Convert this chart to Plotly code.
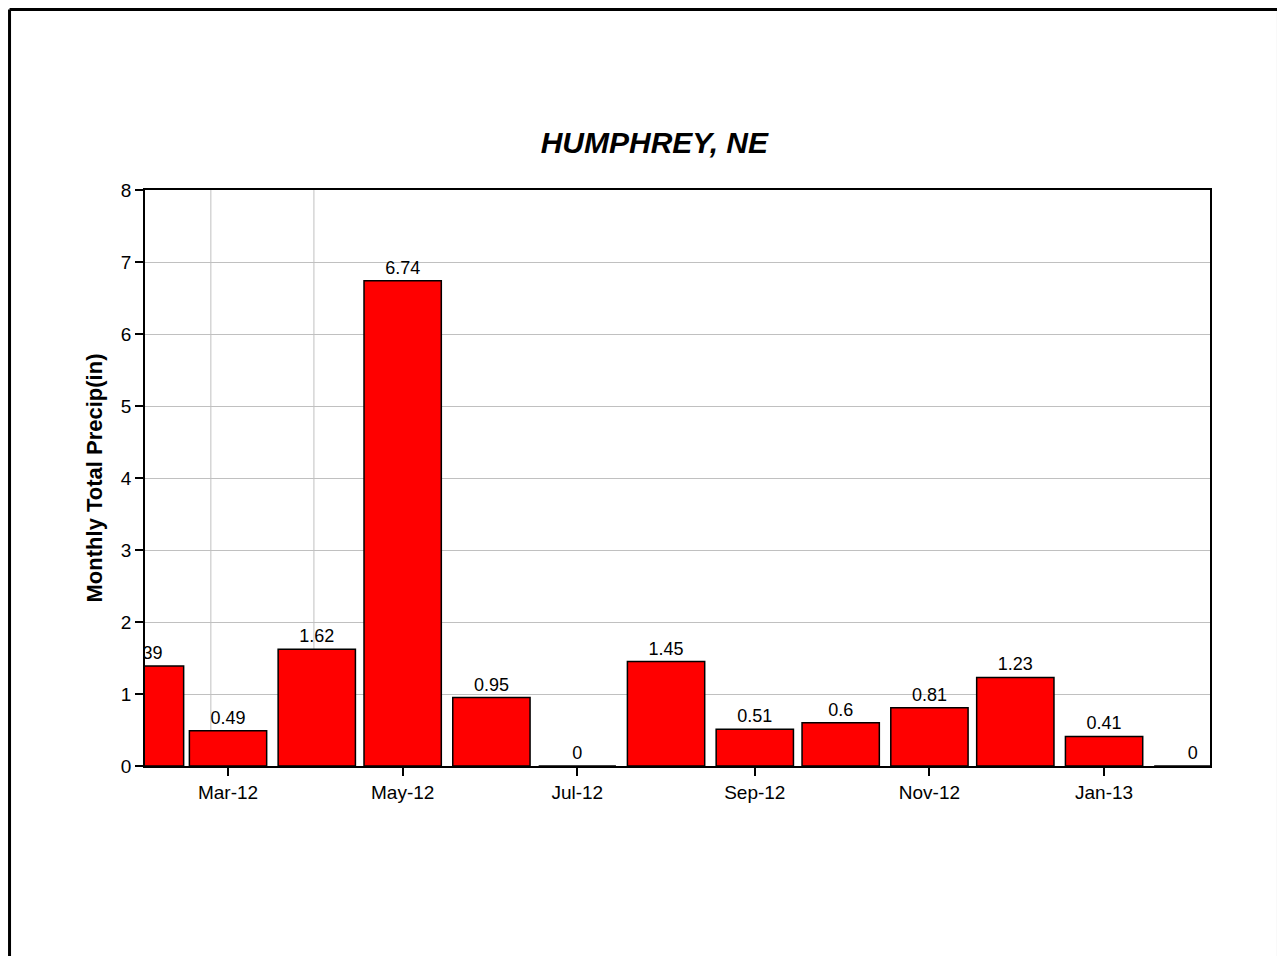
import plotly.graph_objects as go

# Data
months = ["2012-02-01", "2012-03-01", "2012-04-01", "2012-05-01", "2012-06-01",
          "2012-07-01", "2012-08-01", "2012-09-01", "2012-10-01", "2012-11-01",
          "2012-12-01", "2013-01-01", "2013-02-01"]
precip = [1.39, 0.49, 1.62, 6.74, 0.95, 0, 1.45, 0.51, 0.6, 0.81, 1.23, 0.41, 0]
tick_vals = ["2012-03-01", "2012-05-01", "2012-07-01", "2012-09-01", "2012-11-01", "2013-01-01"]
tick_text = ["Mar-12", "May-12", "Jul-12", "Sep-12", "Nov-12", "Jan-13"]
extra_vgrid = ["2012-02-24", "2012-03-31"]

FONT = "Liberation Sans, Arial, sans-serif"
DAY_MS = 86400000

fig = go.Figure()
fig.add_trace(go.Bar(
    x=months, y=precip,
    width=[27 * DAY_MS] * len(months),
    marker=dict(color="#ff0000", line=dict(color="#000000", width=1.5)),
    text=[str(v) for v in precip],
    textposition="outside",
    textfont=dict(family=FONT, size=18, color="#000000"),
    cliponaxis=True,
    hoverinfo="x+y",
))

shapes = []
for d in extra_vgrid:
    shapes.append(dict(type="line", xref="x", yref="paper", x0=d, x1=d, y0=0, y1=1,
                       line=dict(color="#c0c0c0", width=1), layer="below"))
# outer image border (left, top, right)
BL, BR, BT, BB = -0.1272, 1.0643, 1.3134, -0.40
shapes.append(dict(type="line", xref="paper", yref="paper", x0=BL, x1=BL,
                   y0=BB, y1=BT, line=dict(color="black", width=3)))
shapes.append(dict(type="line", xref="paper", yref="paper", x0=BL, x1=BR,
                   y0=BT, y1=BT, line=dict(color="black", width=3)))
shapes.append(dict(type="line", xref="paper", yref="paper", x0=BR, x1=BR,
                   y0=BB, y1=BT, line=dict(color="black", width=3)))

fig.update_layout(
    width=1285, height=956,
    margin=dict(l=137, r=83, t=182, b=198),
    paper_bgcolor="white", plot_bgcolor="white",
    showlegend=False,
    title=dict(text="<b><i>HUMPHREY, NE</i></b>", x=0.503, xanchor="center",
               y=0.859, yanchor="middle",
               font=dict(family=FONT, size=30, color="black")),
    shapes=shapes,
    xaxis=dict(
        type="date",
        range=["2012-02-01", "2013-02-07"],
        tickvals=tick_vals, ticktext=tick_text,
        showgrid=False,
        showline=True, linecolor="black", linewidth=1.5, mirror=True,
        ticks="outside", ticklen=8, tickcolor="black", tickwidth=1.5,
        tickfont=dict(family=FONT, size=19, color="black"),
    ),
    yaxis=dict(
        range=[0, 8], dtick=1, tick0=0,
        showgrid=True, gridcolor="#c0c0c0", gridwidth=1,
        zeroline=False,
        showline=True, linecolor="black", linewidth=1.5, mirror=True,
        ticks="outside", ticklen=8, tickcolor="black", tickwidth=1.5,
        tickfont=dict(family=FONT, size=19, color="black"),
        title=dict(text="<b>Monthly Total Precip(in)</b>", standoff=12,
                   font=dict(family=FONT, size=22, color="black")),
    ),
)

fig.write_html("out.html")
